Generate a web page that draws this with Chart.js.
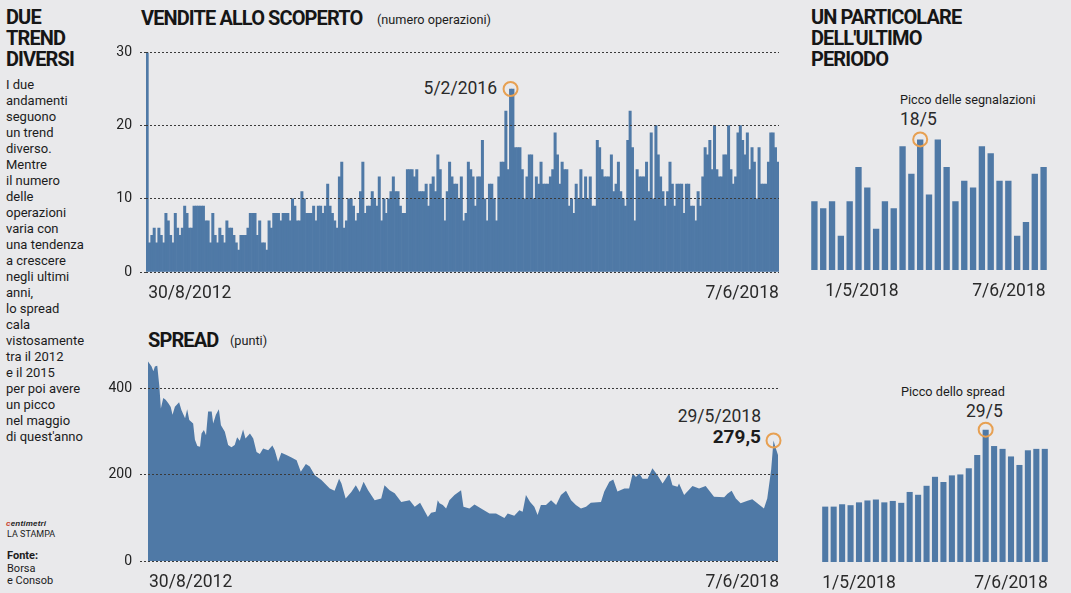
<!DOCTYPE html>
<html lang="it">
<head>
<meta charset="utf-8">
<title>Due trend diversi</title>
<script src="https://cdn.jsdelivr.net/npm/chart.js@4"></script>
<style>
  html, body { margin: 0; padding: 0; background: #e9e9eb; }
  body { position: relative; width: 1071px; height: 593px; overflow: hidden; color: #1c1c1c; font-family: "Roboto", sans-serif; }
  canvas { position: absolute; }
  .txt { position: absolute; white-space: pre; }
  .head { font-weight: bold; font-size: 20px; line-height: 21px; letter-spacing: -0.9px; color: #161616; }
  .note { font-size: 12.7px; }
  .date { font-size: 17.5px; color: #2a2a2a; }
</style>
</head>
<body>
<div class="txt head" style="left:6px;top:7px">DUE
TREND
DIVERSI</div>
<div class="txt" style="left:6px;top:77px;font-size:13px;line-height:16px">I due
andamenti
seguono
un trend
diverso.
Mentre
il numero
delle
operazioni
varia con
una tendenza
a crescere
negli ultimi
anni,
lo spread
cala
vistosamente
tra il 2012
e il 2015
per poi avere
un picco
nel maggio
di quest'anno</div>
<div class="txt" style="left:6px;top:519px;font:italic bold 8px 'Liberation Sans';letter-spacing:0.2px"><span style="color:#c8452e">c</span>entimetri</div>
<div class="txt" style="left:7px;top:529px;font-size:9px">LA STAMPA</div>
<div class="txt" style="left:7px;top:550px;font-size:11px;line-height:12.5px"><b>Fonte:</b>
Borsa
e Consob</div>

<div class="txt head" style="left:141px;top:8px">VENDITE ALLO SCOPERTO</div>
<div class="txt note" style="left:377px;top:12px">(numero operazioni)</div>
<div class="txt date" style="right:574px;top:78px">5/2/2016</div>

<div class="txt head" style="left:148px;top:330px">SPREAD</div>
<div class="txt note" style="left:230px;top:333px">(punti)</div>
<div class="txt date" style="right:310px;top:406px">29/5/2018</div>
<div class="txt" style="right:310px;top:425px;font:bold 19px Roboto">279,5</div>

<div class="txt head" style="left:811px;top:7px">UN PARTICOLARE
DELL'ULTIMO
PERIODO</div>
<div class="txt note" style="left:900px;top:92px">Picco delle segnalazioni</div>
<div class="txt date" style="left:900px;top:109px">18/5</div>
<div class="txt note" style="left:901px;top:384px">Picco dello spread</div>
<div class="txt date" style="left:966px;top:401px">29/5</div>

<canvas id="short_chart" width="688" height="266" style="left:100px;top:36px"></canvas>
<canvas id="spread_chart" width="687" height="249" style="left:100px;top:342px"></canvas>
<canvas id="short_mini_chart" width="256" height="182" style="left:801px;top:118px"></canvas>
<canvas id="spread_mini_chart" width="246" height="182" style="left:812px;top:410px"></canvas>

<script>
var shortValues = [
  30,4,5,6,4,6,5,4,8,7,5,4,8,6,5,6,9,8,6,6,9,9,9,9,9,7,7,4,8,5,4,6,5,4,7,6,6,5,4,3,5,5,5,6,8,8,8,5,7,4,4,3,7,6,8,8,8,7,8,8,8,7,10,9,7,7,11,10,8,8,8,9,7,9,9,8,9,12,9,8,7,6,13,15,6,7,10,10,9,7,8,11,15,8,9,9,11,10,9,13,7,10,8,10,11,13,11,11,9,8,8,14,14,14,13,14,11,11,11,12,9,12,13,11,16,14,10,7,11,15,13,12,12,10,13,7,8,15,
  14,13,9,13,13,18,10,7,12,12,10,7,13,15,15,22,14,25,25,17,17,17,14,10,13,16,16,10,13,12,15,12,12,12,13,14,19,16,12,15,14,14,9,10,8,12,10,14,10,13,10,13,9,9,18,17,14,13,13,13,16,11,12,15,11,10,9,18,22,17,7,14,13,13,13,15,11,19,10,20,16,13,11,9,11,15,12,9,12,12,12,8,12,12,9,9,7,11,9,13,17,16,18,14,20,14,13,13,16,16,20,14,12,13,19,20,18,16,19,14,17,15,10,17,12,12,12,15,19,19,17,15
];
var shortLabels = shortValues.map(function(v, i) { return i; });
var shortTicks = [0, 10, 20, 30];
var shortFirstDate = '30/8/2012';
var shortLastDate = '7/6/2018';
var shortPeak = 25;

var spreadDays = [
  0,12,18,23,31,38,43,51,59,68,76,82,90,104,112,124,131,138,151,157,165,174,179,187,194,201,213,218,227,237,244,257,268,279,290,298,307,318,326,341,352,363,374,385,402,416,424,435,446,463,480,497,511,528,541,558,580,608,624,639,647,661,680,695,708,721,736,758,780,791,808,825,847,875,892,910,936,947,962,969,
  975,986,997,1008,1025,1047,1055,1075,1092,1114,1142,1164,1192,1203,1225,1242,1253,1264,1278,1292,1303,1314,1331,1348,1365,1381,1398,1415,1431,1448,1465,1481,1515,1526,1543,1556,1570,1593,1609,1621,1632,1643,1654,1671,1687,1704,1721,1743,1754,1771,1776,1793,1821,1843,1865,1893,1927,1938,1952,1966,1982,2005,2021,2038,2060,2071,2084,2092,2098,2107
];
var spreadValues = [
  463,451,440,451,453,405,354,378,374,366,357,339,358,368,350,331,352,327,319,281,267,265,296,304,292,347,347,319,339,352,315,300,269,264,269,287,279,305,284,296,284,253,248,261,257,268,257,230,251,246,240,234,207,225,219,199,188,168,163,191,180,145,160,176,160,184,164,141,145,176,164,157,137,141,126,135,102,112,114,141,
  134,130,122,141,153,164,126,122,131,122,110,110,100,110,105,118,114,153,137,126,107,130,130,141,130,153,163,141,130,122,126,135,137,161,184,189,161,168,168,203,195,203,191,191,215,199,180,203,176,172,180,153,174,168,174,149,148,156,163,145,134,140,143,134,122,145,211,279.5,265,246
];
var spreadTicks = [0, 200, 400];
var spreadFirstDate = '30/8/2012';
var spreadLastDate = '7/6/2018';
var spreadLastDay = 2107;
var spreadPeak = 279.5;

var miniDates = ['1/5','3/5','4/5','7/5','8/5','9/5','10/5','11/5','14/5','15/5','16/5','17/5','18/5','21/5','22/5','23/5','24/5','25/5','28/5','29/5','30/5','31/5','1/6','4/6','5/6','6/6','7/6'];
var miniShortValues = [10,9,10,5,10,15,12,6,10,9,18,14,19,11,19,15,10,13,12,18,17,13,13,5,7,14,15];
var miniSpreadValues = [117,117,122,120,126,130,132,126,129,125,148,142,161,180,169,183,185,198,226,279.5,245,239,223,205,236,239,239];
var miniFirstDate = '1/5/2018';
var miniLastDate = '7/6/2018';

var barColor = '#4f79a6';
var ringColor = '#e7a052';
var gridColor = '#3a3a3a';
var dateFont = { family: 'Roboto', size: 17.5 };
var dateColor = '#2a2a2a';

// one hollow orange point sitting on the peak of a series
function ringSeries(values, peak) {
  var index = values.indexOf(peak);
  return {
    type: 'line',
    showLine: false,
    clip: false,
    order: 0,
    data: values.map(function(v, i) { return i === index ? v : null; }),
    pointStyle: 'circle',
    pointRadius: 7,
    pointBorderWidth: 2,
    pointBorderColor: ringColor,
    pointBackgroundColor: 'rgba(0,0,0,0)'
  };
}

function valueAxis(max, ticks, width, tickLength) {
  return {
    min: 0,
    max: max,
    afterFit: function(scale) { scale.width = width; },
    afterBuildTicks: function(scale) {
      scale.ticks = ticks.map(function(v) { return { value: v }; });
    },
    border: { display: false, dash: [2, 2] },
    grid: {
      z: 1,
      color: gridColor,
      lineWidth: 1,
      tickColor: gridColor,
      tickBorderDash: [2, 2],
      tickLength: tickLength
    },
    ticks: {
      color: '#222',
      padding: 8,
      font: { family: 'Roboto', size: 14 }
    }
  };
}

function dateAxis(tickValues, tickText, offset, align, labelOffset) {
  return {
    offset: offset,
    afterFit: function(scale) { scale.height = 30; },
    afterBuildTicks: function(scale) {
      scale.ticks = tickValues.map(function(v) { return { value: v }; });
    },
    border: { display: false },
    grid: { display: false },
    ticks: {
      align: align,
      labelOffset: labelOffset,
      autoSkip: false,
      maxRotation: 0,
      padding: 3,
      color: dateColor,
      font: dateFont,
      callback: function(value) { return tickText[tickValues.indexOf(value)]; }
    }
  };
}

function baseOptions(padding, x, y) {
  return {
    responsive: false,
    animation: false,
    events: [],
    layout: { padding: padding },
    plugins: { legend: { display: false }, tooltip: { enabled: false } },
    scales: { x: x, y: y }
  };
}

function renderShortChart() {
  new Chart(document.getElementById('short_chart').getContext('2d'), {
    type: 'bar',
    data: {
      labels: shortLabels,
      datasets: [ringSeries(shortValues, shortPeak), {
        order: 1,
        data: shortValues,
        backgroundColor: barColor,
        barPercentage: 1,
        categoryPercentage: 1
      }]
    },
    options: baseOptions(0,
      dateAxis([0, shortValues.length - 1], [shortFirstDate, shortLastDate], true, 'inner', 1),
      valueAxis(30, shortTicks, 46, 6))
  });
}

function renderSpreadChart() {
  var points = spreadDays.map(function(day, i) { return { x: day, y: spreadValues[i] }; });
  var peakAt = spreadDays[spreadValues.indexOf(spreadPeak)];
  var x = dateAxis([0, spreadLastDay], [spreadFirstDate, spreadLastDate], false, 'inner', 1);
  x.type = 'linear';
  x.min = 0;
  x.max = spreadLastDay;
  new Chart(document.getElementById('spread_chart').getContext('2d'), {
    type: 'line',
    data: {
      datasets: [{
        order: 0,
        showLine: false,
        clip: false,
        data: [{ x: peakAt, y: spreadPeak }],
        pointRadius: 7,
        pointBorderWidth: 2,
        pointBorderColor: ringColor,
        pointBackgroundColor: 'rgba(0,0,0,0)'
      }, {
        order: 1,
        data: points,
        fill: 'origin',
        borderWidth: 0,
        pointRadius: 0,
        backgroundColor: barColor
      }]
    },
    options: baseOptions(0, x, valueAxis(470, spreadTicks, 48, 8))
  });
}

function renderMiniChart(id, values, peak, max, tickValues, align, labelOffset, padding) {
  var y = { display: false, min: 0, max: max };
  new Chart(document.getElementById(id).getContext('2d'), {
    type: 'bar',
    data: {
      labels: miniDates,
      datasets: [ringSeries(values, peak), {
        order: 1,
        data: values,
        backgroundColor: barColor,
        barPercentage: 0.72,
        categoryPercentage: 1
      }]
    },
    options: baseOptions(padding,
      dateAxis(tickValues, [miniFirstDate, miniLastDate], true, align, labelOffset), y)
  });
}

renderShortChart();
renderSpreadChart();
renderMiniChart('short_mini_chart', miniShortValues, 19, 20, [1, 26], 'inner', 2, { top: 14.5 });
renderMiniChart('spread_mini_chart', miniSpreadValues, 279.5, 300, [4, 22], 'center', 0, { top: 10 });
</script>
</body>
</html>
